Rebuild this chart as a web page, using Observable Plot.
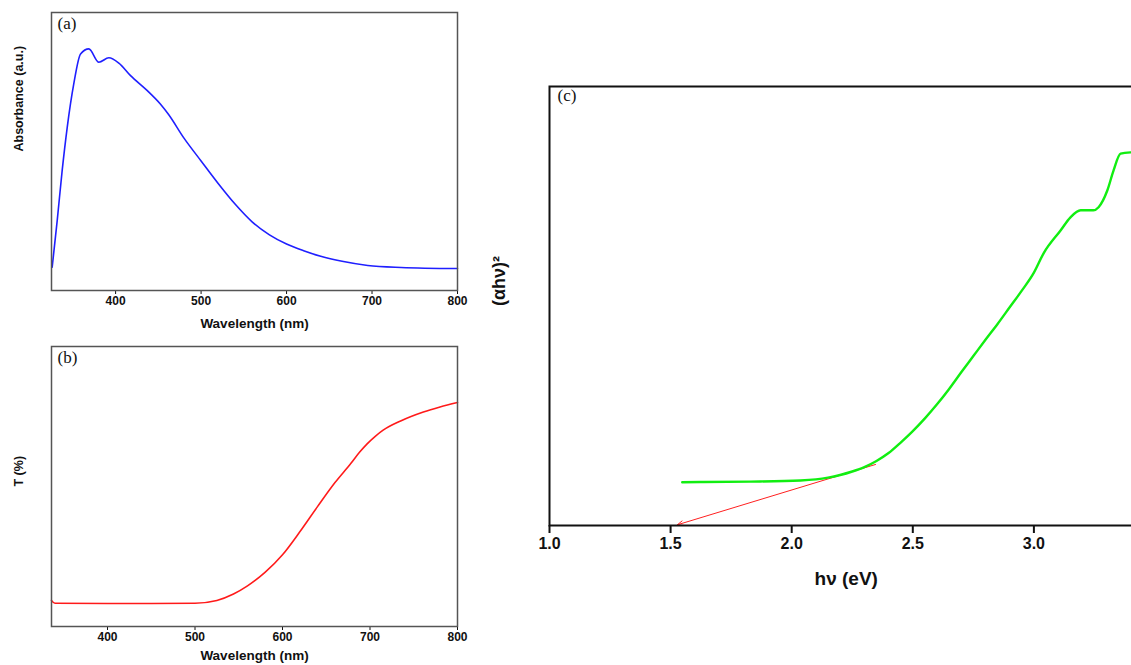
<!DOCTYPE html>
<html><head><meta charset="utf-8">
<script src="https://cdn.jsdelivr.net/npm/d3@7"></script>
<script src="https://cdn.jsdelivr.net/npm/@observablehq/plot@0.6"></script>
<style>
html,body{margin:0;padding:0;background:#fff;overflow:hidden;width:1131px;height:665px}
.panel{position:absolute;overflow:hidden}
.panel svg{max-width:none !important}
</style></head><body>
<div id="a" class="panel" style="left:0;top:0;width:480px;height:334px"></div>
<div id="b" class="panel" style="left:0;top:334px;width:480px;height:331px"></div>
<div id="c" class="panel" style="left:480px;top:0;width:651px;height:665px"></div>
<script>
// Panel (a): absorbance spectrum
const absWavelength = [325.8, 331.7, 337.5, 343.4, 351.1, 359.0, 368.7, 380.4, 392.1, 403.8, 417.5, 437.1, 452.6, 462.0, 480.0, 500.0, 520.0, 540.0, 560.0, 580.0, 600.0, 620.0, 640.0, 665.0, 695.0, 734.0, 800.0];
const absValue      = [0.084, 0.252, 0.432, 0.587, 0.744, 0.851, 0.869, 0.821, 0.837, 0.818, 0.773, 0.719, 0.670, 0.633, 0.548, 0.466, 0.385, 0.310, 0.246, 0.200, 0.167, 0.143, 0.123, 0.105, 0.090, 0.083, 0.079];
// Panel (b): transmittance spectrum
const transWavelength = [336, 340, 400, 450, 500, 525, 544, 560, 580, 600, 620, 640, 660, 678, 688, 697, 706, 715, 735, 761, 780, 800];
const transValue      = [9.3, 8.3, 8.2, 8.2, 8.3, 9.3, 11.6, 14.5, 19.3, 25.6, 33.9, 42.8, 51.4, 58.2, 62.2, 65.3, 67.9, 70.1, 73.4, 76.6, 78.4, 80.0];
// Panel (c): Tauc plot
const taucEnergy = [1.548, 1.623, 1.830, 2.036, 2.10, 2.15, 2.20, 2.25, 2.30, 2.35, 2.40, 2.45, 2.50, 2.55, 2.60, 2.65, 2.70, 2.75, 2.80, 2.85, 2.90, 2.95, 3.00, 3.040, 3.110, 3.151, 3.193, 3.246, 3.267, 3.303, 3.329, 3.358, 3.399];
const taucValue  = [9.86, 9.9, 10.0, 10.25, 10.5, 10.9, 11.5, 12.3, 13.3, 14.7, 16.5, 18.9, 21.5, 24.4, 27.6, 31.1, 34.9, 38.6, 42.3, 45.9, 49.7, 53.5, 57.6, 62.0, 67.2, 70.2, 71.8, 71.8, 72.5, 76.3, 80.9, 84.7, 85.0];
const tangentStart = [2.346, 13.9];
const tangentEnd   = [1.528, 0.16];
const wavelengthTicks = [400, 500, 600, 700, 800];
const energyTicks = [1.0, 1.5, 2.0, 2.5, 3.0];

const absData = absWavelength.map((w, i) => ({w, v: absValue[i]}));
const transData = transWavelength.map((w, i) => ({w, v: transValue[i]}));
const taucData = taucEnergy.map((e, i) => ({e, v: taucValue[i]}));
const tangent = [{x1: tangentStart[0], y1: tangentStart[1], x2: tangentEnd[0], y2: tangentEnd[1]}];

const sans = "'Liberation Sans', Arial, sans-serif";
const serif = "'Liberation Serif', 'Times New Roman', serif";
const baseStyle = {fontFamily: sans, fontSize: "12px", fontWeight: "bold", color: "#111", background: "transparent", overflow: "visible", maxWidth: "none"};

function smallPanel({data, domain, yDomain, color, label, ylabel, marginTop, plotH, titleDy}) {
  return Plot.plot({
    width: 470, height: marginTop + plotH + 44,
    marginLeft: 51, marginRight: 13, marginTop, marginBottom: 44,
    style: baseStyle,
    x: {domain},
    y: {domain: yDomain, axis: null},
    marks: [
      Plot.axisX({ticks: wavelengthTicks, tickSize: 4, tickPadding: 2, label: null, tickFormat: d3.format("d"), fontSize: 12, fontWeight: "bold"}),
      Plot.line(data, {x: "w", y: "v", stroke: color, strokeWidth: 1.6, curve: "monotone-x"}),
      Plot.frame({stroke: "#555", strokeWidth: 1.5}),
      Plot.text(["Wavelength (nm)"], {frameAnchor: "bottom", dy: titleDy, text: d => d, fontSize: 13.5, fontWeight: "bold", lineAnchor: "middle"}),
      Plot.text([ylabel], {frameAnchor: "left", dx: -33, rotate: -90, text: d => d, fontSize: 12.5, fontWeight: "bold", lineAnchor: "middle"}),
      Plot.text([label], {frameAnchor: "top-left", dx: 6, dy: 4, text: d => d, fontFamily: serif, fontSize: 17, fontWeight: "normal", textAnchor: "start", lineAnchor: "top"})
    ]
  });
}

document.getElementById("a").append(smallPanel({data: absData, domain: [325, 800], yDomain: [0, 1], color: "#1f1fff", label: "(a)", ylabel: "Absorbance (a.u.)", marginTop: 12, plotH: 278, titleDy: 33}));
document.getElementById("b").append(smallPanel({data: transData, domain: [336, 800], yDomain: [0, 100], color: "#ff1a1a", label: "(b)", ylabel: "T (%)", marginTop: 12, plotH: 280, titleDy: 29}));

const plotC = Plot.plot({
  width: 69 + 605.5 + 20, height: 86 + 439 + 80,
  marginLeft: 69, marginRight: 20, marginTop: 86, marginBottom: 80,
  style: {...baseStyle, fontSize: "16px"},
  x: {domain: [1.0, 3.5]},
  y: {domain: [0, 100], axis: null},
  marks: [
    Plot.axisX({ticks: energyTicks, tickSize: 8, tickPadding: 4, tickFormat: d3.format(".1f"), label: null, fontSize: 16, fontWeight: "bold", strokeWidth: 2}),
    Plot.arrow(tangent, {x1: "x1", y1: "y1", x2: "x2", y2: "y2", stroke: "#ff2020", strokeWidth: 1, headLength: 9, headAngle: 45}),
    Plot.line(taucData, {x: "e", y: "v", stroke: "#11ee11", strokeWidth: 2.4, curve: "monotone-x"}),
    Plot.frame({stroke: "#111", strokeWidth: 2}),
    Plot.text(["h\u03bd (eV)"], {frameAnchor: "bottom", dy: 53, text: d => d, fontSize: 19, fontWeight: "bold", lineAnchor: "middle", dx: -6}),
    Plot.text(["(\u03b1h\u03bd)\u00b2"], {frameAnchor: "left", dx: -50, rotate: -90, text: d => d, fontSize: 18, fontWeight: "bold", lineAnchor: "middle"}),
    Plot.text(["(c)"], {frameAnchor: "top-left", dx: 8, dy: 2, text: d => d, fontFamily: serif, fontSize: 17, fontWeight: "normal", textAnchor: "start", lineAnchor: "top"})
  ]
});
document.getElementById("c").append(plotC);
</script>
</body></html>
